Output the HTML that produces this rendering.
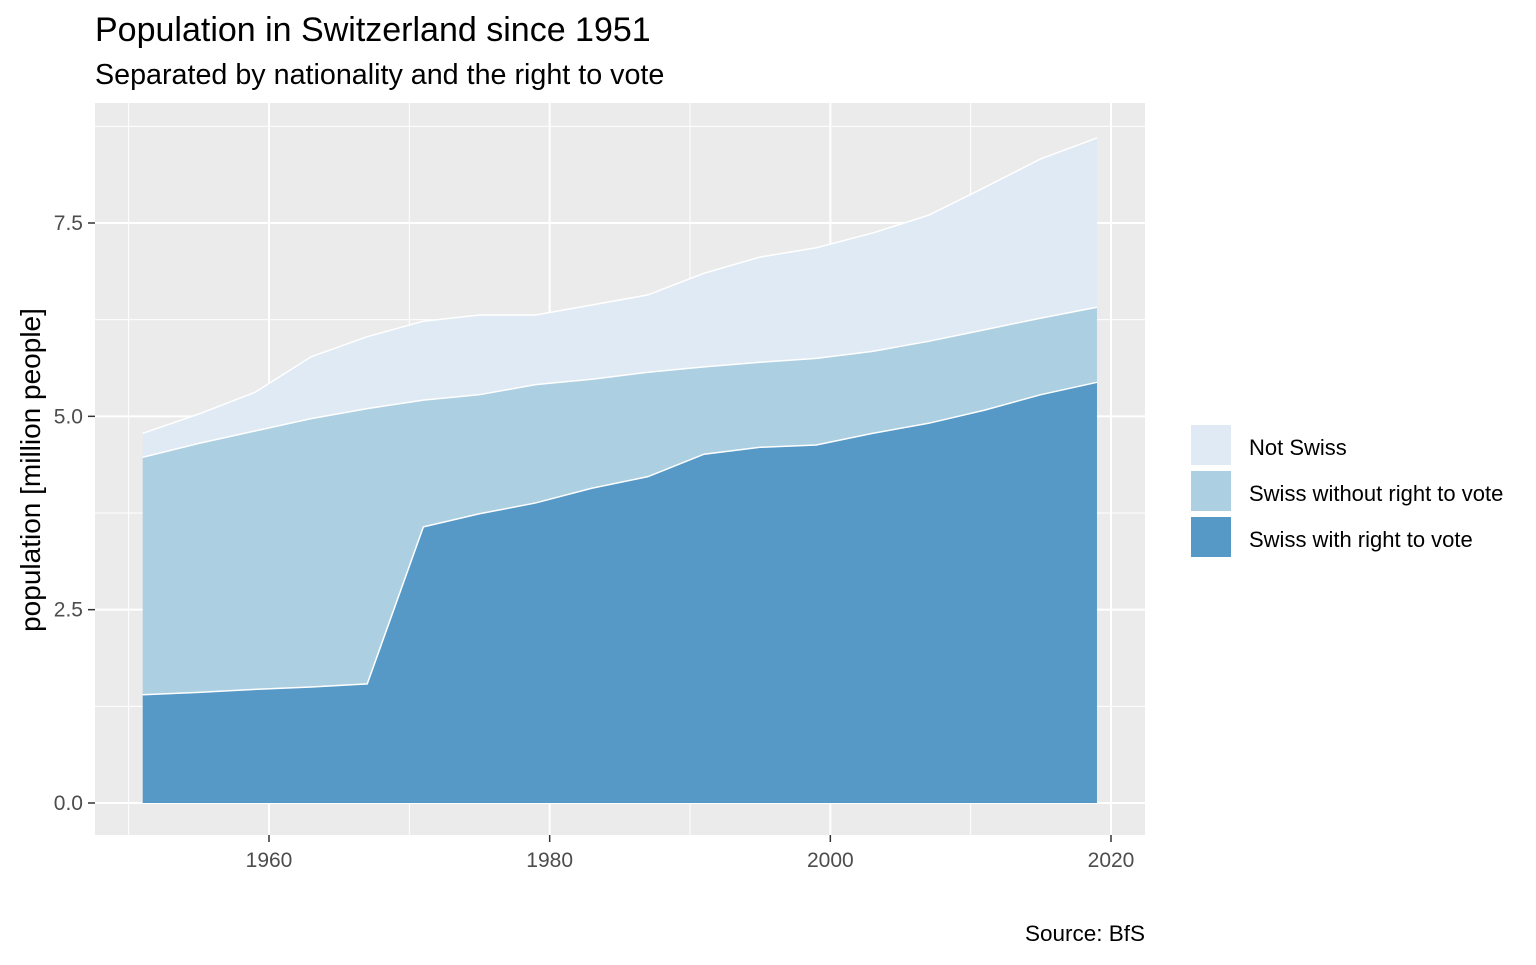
<!DOCTYPE html>
<html><head><meta charset="utf-8"><style>
body{margin:0;background:#fff;width:1536px;height:960px;overflow:hidden;font-family:"Liberation Sans",Arial,sans-serif}
</style></head><body>
<svg id="chart" width="1536" height="960" xmlns="http://www.w3.org/2000/svg" font-family="Liberation Sans, Arial, sans-serif">
<text x="95" y="41" font-size="34" fill="#000">Population in Switzerland since 1951</text>
<text x="95" y="84" font-size="28.7" fill="#000">Separated by nationality and the right to vote</text>
<rect x="95" y="103" width="1050" height="732" fill="#ebebeb"/>
<g id="grid"></g>
<g id="areas"></g>
<g id="axes"></g>
<text transform="translate(40,470) rotate(-90)" text-anchor="middle" font-size="28" fill="#000">population [million people]</text>
<text x="1145" y="941" text-anchor="end" font-size="22.5" fill="#000">Source: BfS</text>
<g>
<rect x="1189" y="423" width="44" height="44" fill="#fff"/>
<rect x="1191" y="425" width="40" height="40" fill="#e0eaf4"/>
<text x="1249" y="455" font-size="22">Not Swiss</text>
<rect x="1189" y="469" width="44" height="44" fill="#fff"/>
<rect x="1191" y="471" width="40" height="40" fill="#acd0e1"/>
<text x="1249" y="501" font-size="22">Swiss without right to vote</text>
<rect x="1189" y="515" width="44" height="44" fill="#fff"/>
<rect x="1191" y="517" width="40" height="40" fill="#5698c6"/>
<text x="1249" y="547" font-size="22">Swiss with right to vote</text>
</g>
</svg>
<script>
const years=[1951,1955,1959,1963,1967,1971,1975,1979,1983,1987,1991,1995,1999,2003,2007,2011,2015,2019];
const swissVote=[1.40,1.43,1.47,1.50,1.54,3.57,3.74,3.88,4.07,4.22,4.51,4.60,4.63,4.78,4.91,5.08,5.28,5.44];
const swissNoVote=[3.07,3.22,3.34,3.47,3.56,1.64,1.54,1.53,1.41,1.35,1.13,1.10,1.12,1.06,1.06,1.04,0.99,0.97];
const notSwiss=[0.31,0.38,0.50,0.80,0.93,1.02,1.03,0.90,0.96,1.00,1.21,1.36,1.43,1.53,1.63,1.84,2.06,2.19];
const xTicks=[1960,1980,2000,2020];
const xMinor=[1950,1970,1990,2010];
const yTicks=[0,2.5,5,7.5];
const yTickLabels=["0.0","2.5","5.0","7.5"];
const yMinor=[1.25,3.75,6.25,8.75];
const NS="http://www.w3.org/2000/svg";
const X=v=>269+(v-1960)*(1111-269)/60;
const Y=v=>803-v*(803-223)/7.5;
function mk(t,a,p){const e=document.createElementNS(NS,t);for(const k in a)e.setAttribute(k,a[k]);p.appendChild(e);return e;}
const grid=document.getElementById('grid'),areas=document.getElementById('areas'),axes=document.getElementById('axes');
yMinor.forEach(v=>{const l=mk('line',{x1:95,x2:1145,y1:Y(v),y2:Y(v),stroke:'#fff','stroke-width':1},grid);

});
xMinor.forEach(v=>{const l=mk('line',{x1:X(v),x2:X(v),y1:103,y2:835,stroke:'#fff','stroke-width':1},grid);

});
yTicks.forEach((v,i)=>{const l=mk('line',{x1:95,x2:1145,y1:Y(v),y2:Y(v),stroke:'#fff','stroke-width':2},grid);


const t=mk('line',{x1:88,x2:95,y1:Y(v),y2:Y(v),stroke:'#333','stroke-width':1.5},axes);


const tx=mk('text',{x:83,y:Y(v)+7,'text-anchor':'end','font-size':21,fill:'#4d4d4d'},axes);tx.textContent=yTickLabels[i];

});
xTicks.forEach(v=>{const l=mk('line',{x1:X(v),x2:X(v),y1:103,y2:835,stroke:'#fff','stroke-width':2},grid);


const t=mk('line',{x1:X(v),x2:X(v),y1:835,y2:842,stroke:'#333','stroke-width':1.5},axes);


const tx=mk('text',{x:X(v),y:867,'text-anchor':'middle','font-size':21,fill:'#4d4d4d'},axes);tx.textContent=v;

});
const s1=swissVote,s2=s1.map((v,i)=>v+swissNoVote[i]),s3=s2.map((v,i)=>v+notSwiss[i]);
function area(top,bot,fill,name){
 let d='M'+years.map((y,i)=>X(y)+','+Y(top[i])).join('L');
 for(let i=years.length-1;i>=0;i--)d+='L'+X(years[i])+','+Y(bot[i]);
 const p=mk('path',{d:d+'Z',fill:fill,stroke:'none'},areas);
 
 
 const l=mk('path',{d:'M'+years.map((y,i)=>X(y)+','+Y(top[i])).join('L'),fill:'none',stroke:'#fff','stroke-width':1.5},areas);
 
 
}
area(s3,s2,'#e0eaf4','area-not-swiss');
area(s2,s1,'#acd0e1','area-swiss-without-vote');
area(s1,years.map(()=>0),'#5698c6','area-swiss-with-vote');
</script>
</body></html>
